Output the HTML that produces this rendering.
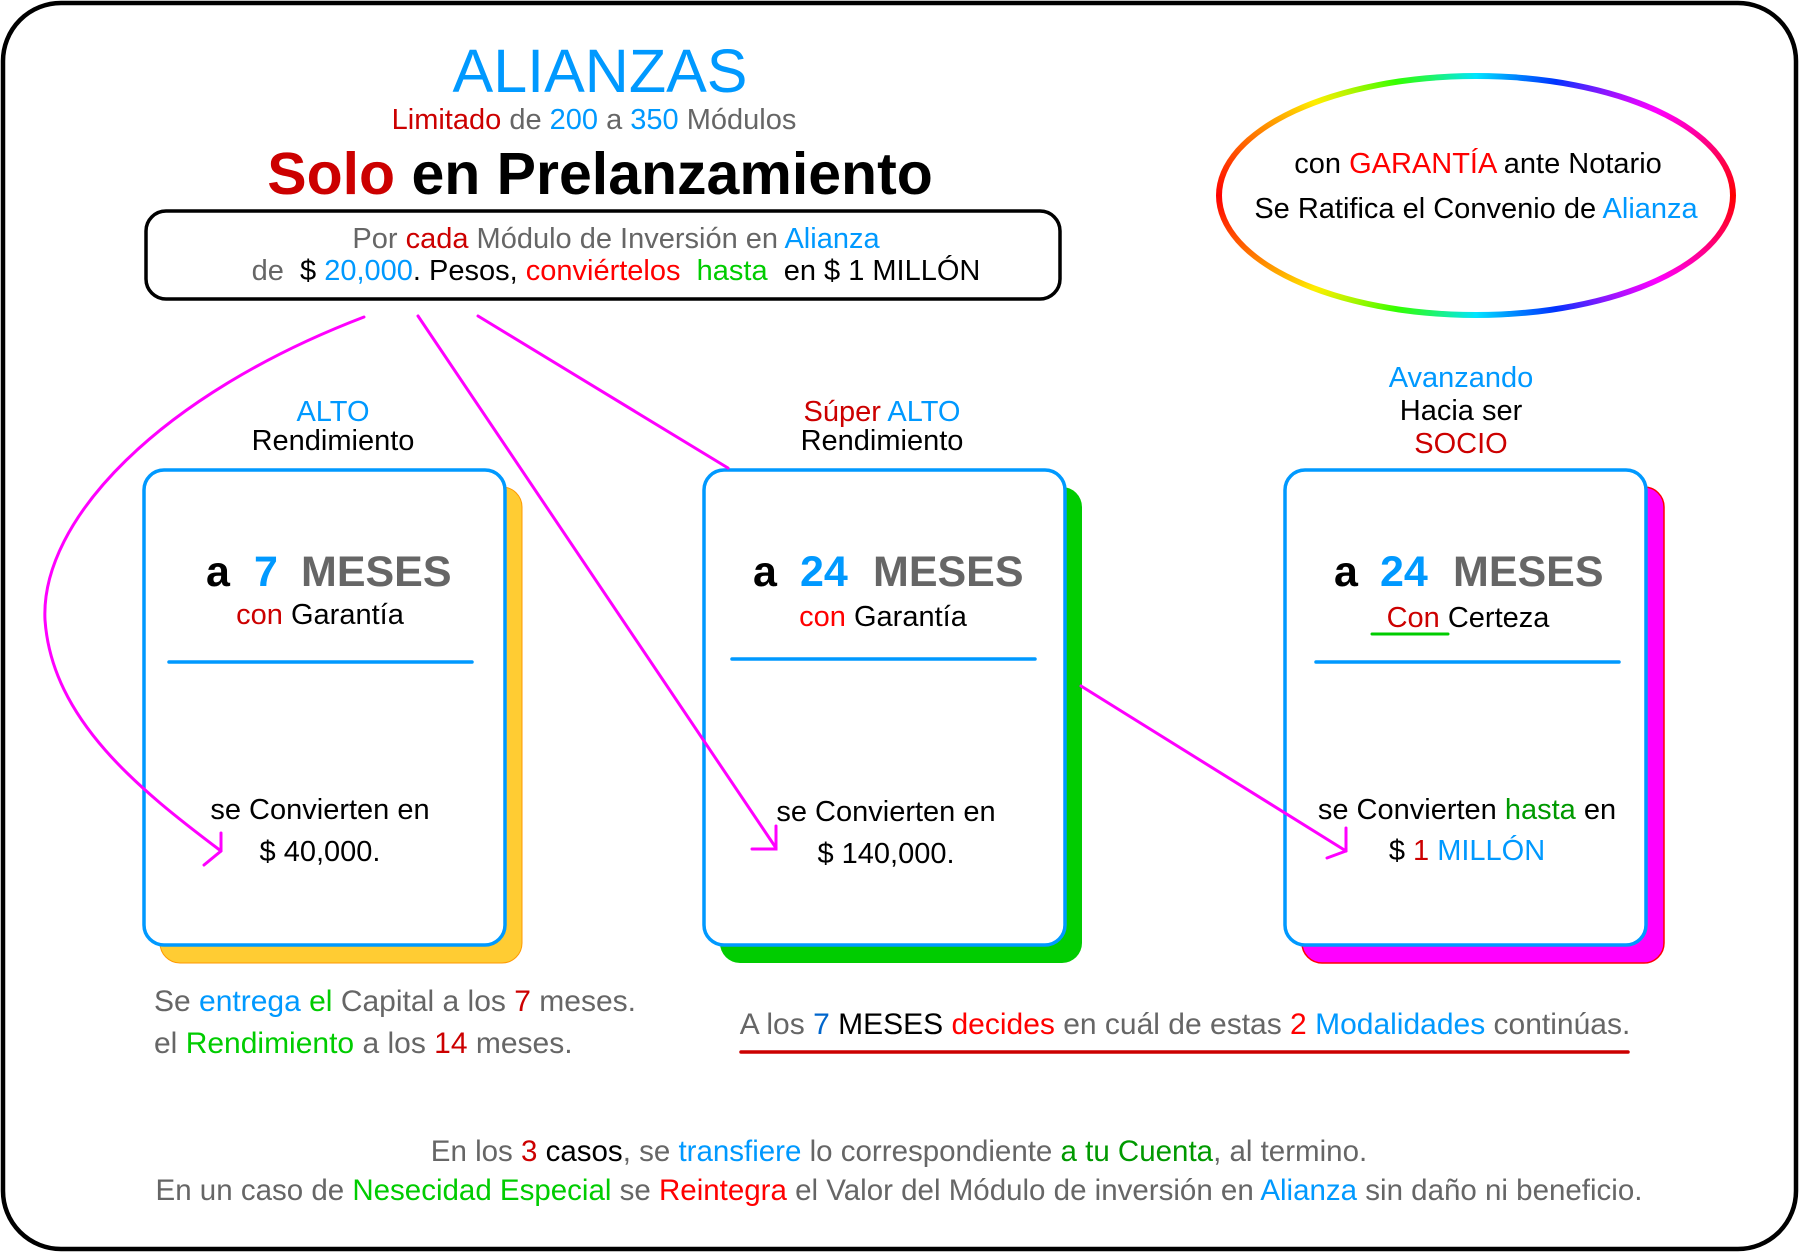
<!DOCTYPE html>
<html><head><meta charset="utf-8"><style>
html,body{margin:0;padding:0;background:#fff;}
svg{display:block;font-family:"Liberation Sans",Arial,sans-serif;}
</style></head><body>
<svg width="1799" height="1253" viewBox="0 0 1799 1253" xmlns="http://www.w3.org/2000/svg">
<rect x="3" y="3" width="1793" height="1246" rx="58" fill="#fff" stroke="#000" stroke-width="4.5"/>

<!-- titles -->
<text x="600" y="92" font-size="61" fill="#0099ff" text-anchor="middle">ALIANZAS</text>
<text x="594" y="129" font-size="29" text-anchor="middle" fill="#666"><tspan fill="#cc0000">Limitado</tspan> de <tspan fill="#0099ff">200</tspan> a <tspan fill="#0099ff">350</tspan> Módulos</text>
<text x="600" y="194" font-size="59" font-weight="bold" text-anchor="middle" fill="#000"><tspan fill="#cc0000">Solo</tspan> en Prelanzamiento</text>

<rect x="146" y="211" width="914" height="88" rx="20" fill="#fff" stroke="#000" stroke-width="3.5"/>
<text x="616" y="248" font-size="29" text-anchor="middle" fill="#666">Por <tspan fill="#cc0000">cada</tspan> Módulo de Inversión en <tspan fill="#0099ff">Alianza</tspan></text>
<text x="616" y="280" font-size="29" text-anchor="middle" fill="#000" xml:space="preserve"><tspan fill="#666">de </tspan> $ <tspan fill="#0099ff">20,000</tspan>. Pesos, <tspan fill="#ff0000">conviértelos</tspan>  <tspan fill="#00cc00">hasta</tspan>  en $ 1 MILLÓN</text>

<!-- ellipse -->
<foreignObject x="1216" y="73" width="520" height="245">
<div xmlns="http://www.w3.org/1999/xhtml" style="width:520px;height:245px;border-radius:50%;background:conic-gradient(from 270deg,#ff0000,#ffee00 30deg,#33ff00 55deg,#00e5ff 90deg,#0033ff 125deg,#ff00ff 155deg,#ff0000 180deg,#ff00ff 205deg,#0033ff 235deg,#00e5ff 270deg,#33ff00 305deg,#ffee00 330deg,#ff0000 360deg);position:relative;">
<div style="position:absolute;left:6px;top:6px;right:6px;bottom:6px;border-radius:50%;background:#fff;"></div>
</div>
</foreignObject>
<text x="1478" y="173" font-size="29" text-anchor="middle" fill="#000">con <tspan fill="#ff0000">GARANTÍA</tspan> ante Notario</text>
<text x="1476" y="218" font-size="29" text-anchor="middle" fill="#000">Se Ratifica el Convenio de <tspan fill="#0099ff">Alianza</tspan></text>

<!-- headings -->
<g font-size="29" text-anchor="middle">
<text x="333" y="421" fill="#0099ff">ALTO</text>
<text x="333" y="450" fill="#000">Rendimiento</text>
<text x="882" y="421" fill="#0099ff"><tspan fill="#cc0000">Súper</tspan> ALTO</text>
<text x="882" y="450" fill="#000">Rendimiento</text>
<text x="1461" y="387" fill="#0099ff">Avanzando</text>
<text x="1461" y="420" fill="#000">Hacia ser</text>
<text x="1461" y="453" fill="#cc0000">SOCIO</text>
</g>

<!-- cards shadows -->
<rect x="160" y="487" width="362" height="476" rx="20" fill="#ffcc33" stroke="#ff9900" stroke-width="1"/>
<rect x="720" y="487" width="362" height="476" rx="20" fill="#00cc00"/>
<rect x="1302" y="487" width="362" height="476" rx="20" fill="#ff00ff" stroke="#ff0000" stroke-width="1.5"/>
<!-- cards -->
<rect x="144" y="470" width="361" height="475" rx="20" fill="#fff" stroke="#0099ff" stroke-width="3.5"/>
<rect x="704" y="470" width="361" height="475" rx="20" fill="#fff" stroke="#0099ff" stroke-width="3.5"/>
<rect x="1285" y="470" width="361" height="475" rx="20" fill="#fff" stroke="#0099ff" stroke-width="3.5"/>

<!-- card content -->
<g font-size="43" font-weight="bold">
<text x="206" y="586" fill="#000">a</text><text x="254" y="586" fill="#0099ff">7</text><text x="301" y="586" fill="#666">MESES</text>
<text x="753" y="586" fill="#000">a</text><text x="800" y="586" fill="#0099ff">24</text><text x="873" y="586" fill="#666">MESES</text>
<text x="1334" y="586" fill="#000">a</text><text x="1380" y="586" fill="#0099ff">24</text><text x="1453" y="586" fill="#666">MESES</text>
</g>
<g font-size="29" text-anchor="middle" fill="#000">
<text x="320" y="624"><tspan fill="#cc0000">con</tspan> Garantía</text>
<text x="883" y="626"><tspan fill="#ff0000">con</tspan> Garantía</text>
<text x="1468" y="627"><tspan fill="#cc0000">Con</tspan> Certeza</text>
<text x="320" y="819">se Convierten en</text>
<text x="320" y="861">$ 40,000.</text>
<text x="886" y="821">se Convierten en</text>
<text x="886" y="863">$ 140,000.</text>
<text x="1467" y="819">se Convierten <tspan fill="#009900">hasta</tspan> en</text>
<text x="1467" y="860">$ <tspan fill="#cc0000">1</tspan> <tspan fill="#0099ff">MILLÓN</tspan></text>
</g>
<line x1="1372" y1="634" x2="1448" y2="634" stroke="#00cc00" stroke-width="3" stroke-linecap="round"/>
<g stroke="#0099ff" stroke-width="3.5" stroke-linecap="round">
<line x1="169" y1="662" x2="472" y2="662"/>
<line x1="732" y1="659" x2="1035" y2="659"/>
<line x1="1316" y1="662" x2="1619" y2="662"/>
</g>

<!-- arrows -->
<g stroke="#ff00ff" stroke-width="3" fill="none" stroke-linecap="round">
<path d="M364,317 C160,395 40,520 45,620 C52,720 140,790 221,851"/>
<polyline points="221,833 221,851 204,865"/>
<line x1="418" y1="316" x2="776" y2="848"/>
<polyline points="776,826 776,849 752,849"/>
<line x1="478" y1="316" x2="728" y2="468"/>
<line x1="1081" y1="686" x2="1346" y2="851"/>
<polyline points="1346,828 1346,851 1327,858"/>
</g>

<!-- bottom texts -->
<g font-size="30" fill="#666">
<text x="154" y="1011"><tspan>Se </tspan><tspan fill="#0099ff">entrega</tspan> <tspan fill="#00cc00">el</tspan> Capital a los <tspan fill="#cc0000">7</tspan> meses.</text>
<text x="154" y="1053">el <tspan fill="#00cc00">Rendimiento</tspan> a los <tspan fill="#cc0000">14</tspan> meses.</text>
<text x="1185" y="1034" text-anchor="middle">A los <tspan fill="#0066cc">7</tspan> <tspan fill="#000">MESES</tspan> <tspan fill="#ff0000">decides</tspan> en cuál de estas <tspan fill="#ff0000">2</tspan> <tspan fill="#0099ff">Modalidades</tspan> continúas.</text>
</g>
<line x1="741" y1="1052" x2="1628" y2="1052" stroke="#cc0000" stroke-width="3.5" stroke-linecap="round"/>
<g font-size="29.5" fill="#666" text-anchor="middle">
<text x="899" y="1161">En los <tspan fill="#cc0000">3</tspan> <tspan fill="#000">casos</tspan>, se <tspan fill="#0099ff">transfiere</tspan> lo correspondiente <tspan fill="#009900">a tu Cuenta</tspan>, al termino.</text>
<text x="899" y="1200">En un caso de <tspan fill="#00cc00">Nesecidad Especial</tspan> se <tspan fill="#ff0000">Reintegra</tspan> el Valor del Módulo de inversión en <tspan fill="#0099ff">Alianza</tspan> sin daño ni beneficio.</text>
</g>
</svg>
</body></html>
